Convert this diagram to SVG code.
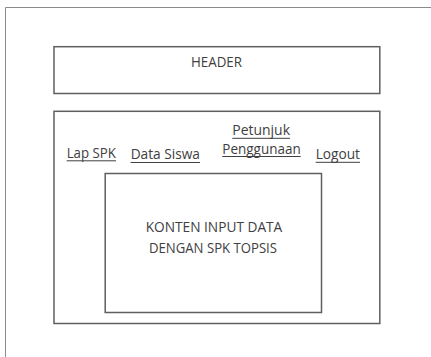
<svg xmlns="http://www.w3.org/2000/svg" width="431" height="357" viewBox="0 0 431 357">
<style>
.box{fill:#ffffff;stroke:#5f5f5f;stroke-width:1.5}
.frame{fill:none;stroke:#8a8a8a;stroke-width:1}
.t{font-family:"Open Sans","Liberation Sans",sans-serif;font-size:14.5px;fill:#404040}
.u{stroke:#404040;stroke-width:1}
</style>
<rect width="431" height="357" fill="#ffffff"/>
<path class="frame" d="M5.5 357 V7.5 H431"/>
<g id="header">
<rect class="box" x="54" y="46.7" width="325.8" height="46.8"/>
<text class="t" x="191" y="67.3" textLength="51" lengthAdjust="spacingAndGlyphs">HEADER</text>
</g>
<g id="main">
<rect class="box" x="54" y="111.3" width="325.8" height="212.2"/>
</g>
<g id="menu-lap-spk">
<text class="t" x="66.7" y="158" textLength="49.3" lengthAdjust="spacingAndGlyphs">Lap SPK</text>
<line class="u" x1="66.7" y1="160.8" x2="116" y2="160.8"/>
</g>
<g id="menu-data-siswa">
<text class="t" x="130.7" y="159.3" textLength="69.3" lengthAdjust="spacingAndGlyphs">Data Siswa</text>
<line class="u" x1="130.7" y1="162.5" x2="200" y2="162.5"/>
</g>
<g id="menu-petunjuk">
<text class="t" x="232.3" y="135.3" textLength="57.7" lengthAdjust="spacingAndGlyphs">Petunjuk</text>
<line class="u" x1="232.3" y1="138.3" x2="290" y2="138.3"/>
<text class="t" x="222.3" y="153.5" textLength="78.4" lengthAdjust="spacingAndGlyphs">Penggunaan</text>
<line class="u" x1="222.3" y1="156.5" x2="300.7" y2="156.5"/>
</g>
<g id="menu-logout">
<text class="t" x="315.7" y="159.3" textLength="44.3" lengthAdjust="spacingAndGlyphs">Logout</text>
<line class="u" x1="315.7" y1="162.3" x2="360" y2="162.3"/>
</g>
<g id="content">
<rect class="box" x="105.2" y="173.5" width="216.3" height="139"/>
<text class="t" x="145.7" y="231.7" textLength="136.6" lengthAdjust="spacingAndGlyphs">KONTEN INPUT DATA</text>
<text class="t" x="149" y="252.7" textLength="128" lengthAdjust="spacingAndGlyphs">DENGAN SPK TOPSIS</text>
</g>
<g id="connectors"/>
</svg>
